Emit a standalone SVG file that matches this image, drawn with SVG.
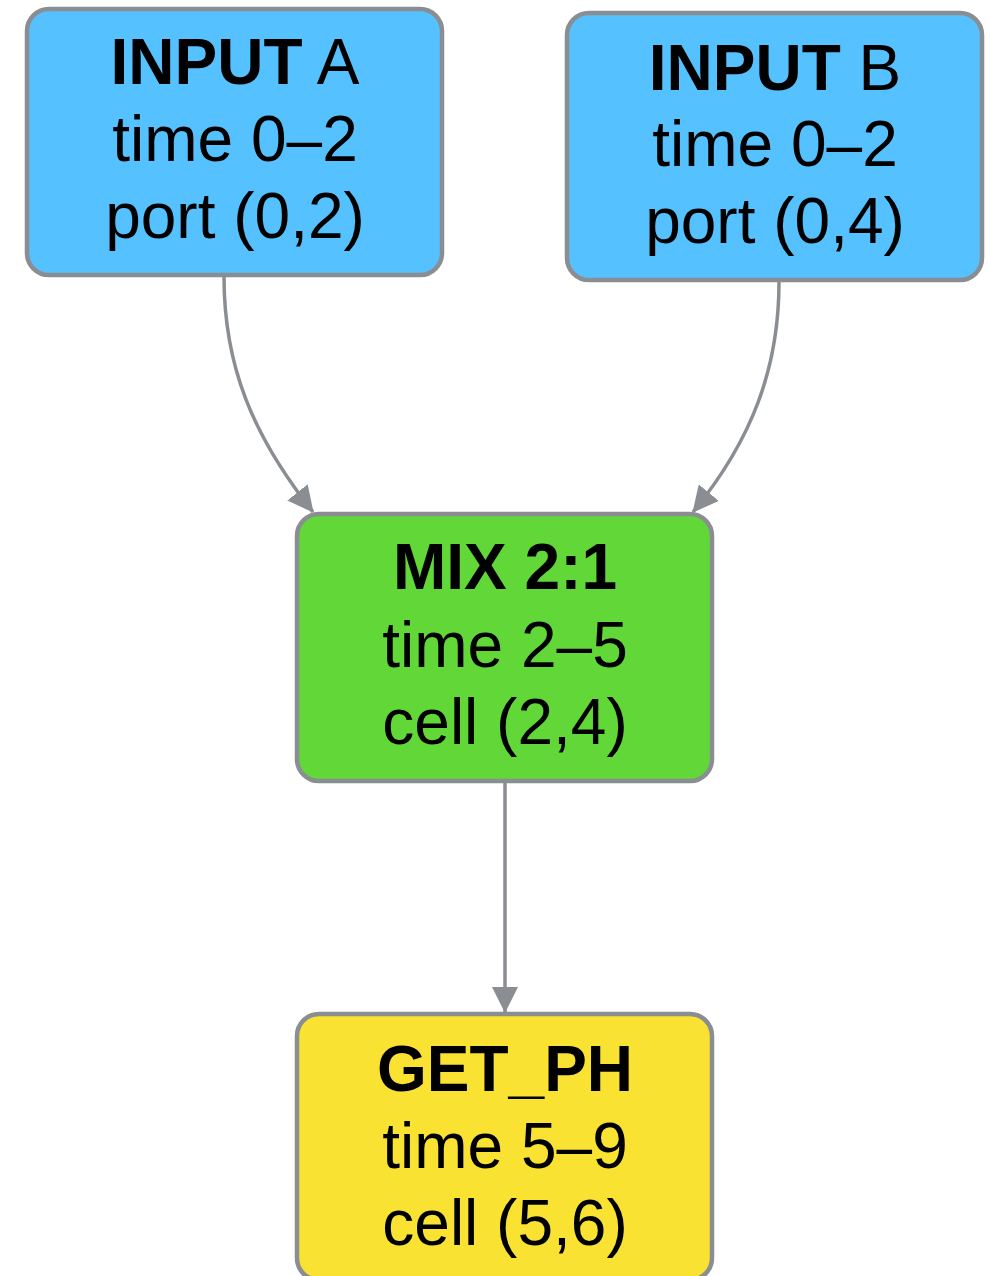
<svg xmlns="http://www.w3.org/2000/svg" width="990" height="1276" viewBox="0 0 990 1276">
  <style>
    .box { stroke: #8a8d92; stroke-width: 4.5; }
    .input { fill: #56c1ff; }
    .mix { fill: #62d838; }
    .get { fill: #f9e231; }
    .lbl { font-family: "Liberation Sans", Arial, sans-serif; font-size: 64px; fill: #000; text-anchor: middle; }
    .title { font-weight: bold; font-size: 64px; }
    .light { font-weight: normal; }
    .edge { fill: none; stroke: #8a8d92; stroke-width: 3.5; }
  </style>
  <defs>
    <marker id="arrow" markerUnits="userSpaceOnUse" markerWidth="26" markerHeight="26" viewBox="0 0 26 26" refX="25" refY="13" orient="auto">
      <path d="M0,0 L26,13 L0,26 Z" fill="#8a8d92"/>
    </marker>
  </defs>

  <rect width="990" height="1276" fill="#ffffff"/>

  <g id="connectors">
    <path class="edge" d="M224,277 C224,365 252,435 313,512" marker-end="url(#arrow)"/>
    <path class="edge" d="M779,282 C779,368 752,440 693,512" marker-end="url(#arrow)"/>
    <path class="edge" d="M505,782 L505,1012" marker-end="url(#arrow)"/>
  </g>

  <g id="input-a">
    <rect class="box input" x="27" y="9" width="415" height="266" rx="22"/>
    <text class="lbl" x="235" y="84"><tspan class="title">INPUT</tspan><tspan class="light"> A</tspan></text>
    <text class="lbl" x="235" y="161">time 0–2</text>
    <text class="lbl" x="235" y="238">port (0,2)</text>
  </g>

  <g id="input-b">
    <rect class="box input" x="567" y="13" width="415" height="267" rx="22"/>
    <text class="lbl" x="775" y="90"><tspan class="title">INPUT</tspan><tspan class="light"> B</tspan></text>
    <text class="lbl" x="775" y="166">time 0–2</text>
    <text class="lbl" x="775" y="243">port (0,4)</text>
  </g>

  <g id="mix">
    <rect class="box mix" x="297" y="514" width="415" height="267" rx="22"/>
    <text class="lbl title" x="505" y="589">MIX 2:1</text>
    <text class="lbl" x="505" y="667">time 2–5</text>
    <text class="lbl" x="505" y="744">cell (2,4)</text>
  </g>

  <g id="get-ph">
    <rect class="box get" x="297" y="1014" width="415" height="266" rx="22"/>
    <text class="lbl title" x="505" y="1091">GET_PH</text>
    <text class="lbl" x="505" y="1168">time 5–9</text>
    <text class="lbl" x="505" y="1245">cell (5,6)</text>
  </g>
</svg>
